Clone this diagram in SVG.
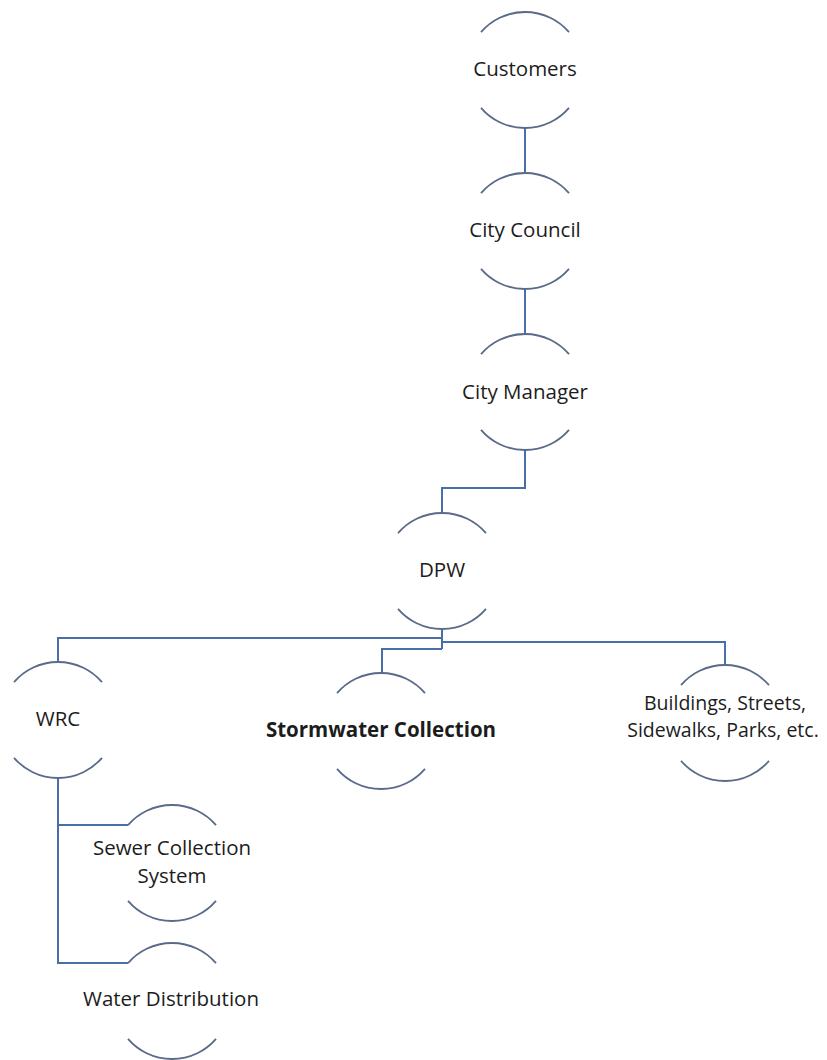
<svg xmlns="http://www.w3.org/2000/svg" xmlns:xlink="http://www.w3.org/1999/xlink" width="827" height="1060" viewBox="0 0 827 1060">
<style>
.arc{fill:none;stroke:#5a6a8a;stroke-width:1.8}
.conn{fill:none;stroke:#4a6ea8;stroke-width:2}
.lbl{font-family:"Open Sans","Noto Sans",sans-serif;font-size:20.5px;fill:#1c1c1c;text-anchor:middle}
.sm{font-size:19.5px}
.bold{font-weight:bold}
</style>
<defs>
<path id="ring" d="M-44,-37.8 A58,58 0 0 1 44,-37.8 M-44,37.8 A58,58 0 0 0 44,37.8"/>
</defs>
<rect width="827" height="1060" fill="#ffffff"/>
<g id="connectors" class="conn">
<path d="M525,128 V173"/>
<path d="M525,288 V335"/>
<path d="M525,450 V488 H442 V513"/>
<path d="M442,629 V649"/>
<path d="M442,638 H58 V662"/>
<path d="M442,642 H725 V665"/>
<path d="M442,649 H382 V673"/>
<path d="M58,778 V963 H128"/>
<path d="M58,825 H128"/>
</g>
<g id="customers"><use href="#ring" class="arc" x="525" y="70"/><text class="lbl" x="525" y="76">Customers</text></g>
<g id="city-council"><use href="#ring" class="arc" x="525" y="231"/><text class="lbl" x="525" y="237">City Council</text></g>
<g id="city-manager"><use href="#ring" class="arc" x="525" y="392"/><text class="lbl" x="525" y="399">City Manager</text></g>
<g id="dpw"><use href="#ring" class="arc" x="442" y="571"/><text class="lbl" x="442" y="577">DPW</text></g>
<g id="wrc"><use href="#ring" class="arc" x="58" y="720"/><text class="lbl" x="58" y="726">WRC</text></g>
<g id="stormwater"><use href="#ring" class="arc" x="381" y="731"/><text class="lbl bold" x="381" y="737">Stormwater Collection</text></g>
<g id="buildings"><use href="#ring" class="arc" x="725" y="723"/><text class="lbl sm" x="725" y="710">Buildings, Streets,</text><text class="lbl sm" x="723" y="737">Sidewalks, Parks, etc.</text></g>
<g id="sewer"><use href="#ring" class="arc" x="172" y="863"/><text class="lbl" x="172" y="855">Sewer Collection</text><text class="lbl" x="172" y="883">System</text></g>
<g id="water"><use href="#ring" class="arc" x="172" y="1001"/><text class="lbl" x="171" y="1006">Water Distribution</text></g>
</svg>
